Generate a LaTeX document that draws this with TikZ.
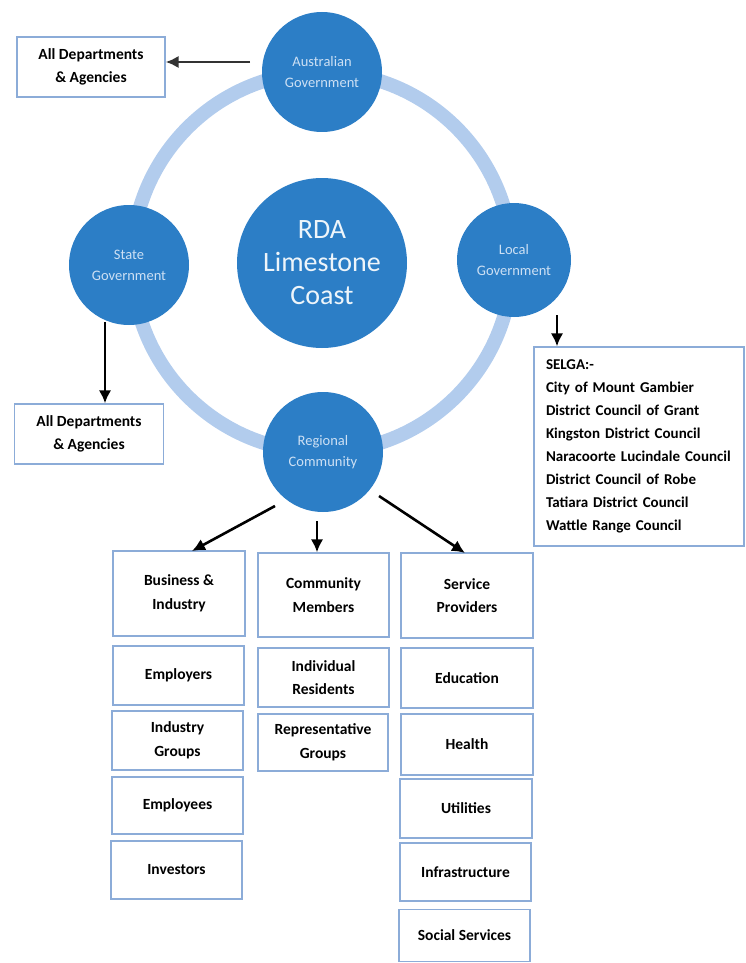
\documentclass[tikz,border=0pt]{standalone}
\usepackage{fontspec}
\setmainfont{Carlito}
\usetikzlibrary{arrows.meta}
\definecolor{circblue}{RGB}{44,126,198}
\definecolor{ringblue}{RGB}{178,204,237}
\definecolor{boxblue}{RGB}{140,172,216}
\definecolor{circtext}{RGB}{205,224,244}
\tikzset{
  x=1pt,y=-1pt,
  gov/.style={circle,fill=circblue,draw=none,minimum size=120pt,inner sep=0pt,
    align=center,text=circtext,font=\fontsize{14.5}{21}\selectfont},
  rdac/.style={circle,fill=circblue,draw=none,minimum size=170pt,inner sep=0pt,
    align=center,text=white!92!circblue,font=\fontsize{28}{33}\selectfont},
  infobox/.style={draw=boxblue,line width=1.3pt,fill=white,align=center,inner sep=2pt,
    font=\bfseries\fontsize{15.5}{23.5}\selectfont},
  arr/.style={line width=2.6pt,-{Latex[length=13pt,width=12.5pt]},draw=black},
}
\begin{document}
\begin{tikzpicture}
\useasboundingbox (0,0) rectangle (745,963);
% ring
\draw[ringblue,line width=14pt] (322,262) circle[radius=190pt];
% circles
\node[rdac] (rda) at (322,263) {RDA\\Limestone\\Coast};
\node[gov] (aus) at (322,72) {Australian\\Government};
\node[gov] (state) at (129,265) {State\\Government};
\node[gov,minimum size=114pt] (local) at (514,260) {Local\\Government};
\node[gov] (reg) at (323,452) {Regional\\Community};
% department boxes
\node[infobox,minimum width=148pt,minimum height=60pt] (d1) at (91,67) {All Departments\\\& Agencies};
\node[infobox,minimum width=149pt,minimum height=60pt] (d2) at (89,434) {All Departments\\\& Agencies};
\node[infobox,minimum width=210pt,minimum height=199pt,align=left,text width=186pt,
  font=\bfseries\fontsize{15}{23}\selectfont] (selga) at (639,446.5)
  {SELGA:-\\City of Mount Gambier\\District Council of Grant\\Kingston District Council\\Naracoorte Lucindale Council\\District Council of Robe\\Tatiara District Council\\Wattle Range Council};
% column heads
\node[infobox,minimum width=132pt,minimum height=85pt] (bi) at (179,593.5) {Business \&\\Industry};
\node[infobox,minimum width=131pt,minimum height=84pt] (cm) at (323.5,595) {Community\\Members};
\node[infobox,minimum width=132pt,minimum height=85pt] (sp) at (467,595.5) {Service\\Providers};
% business column
\node[infobox,minimum width=131pt,minimum height=59pt] (emp) at (178.5,675.5) {Employers};
\node[infobox,minimum width=131pt,minimum height=59pt] (ig) at (177.5,740.5) {Industry\\Groups};
\node[infobox,minimum width=131pt,minimum height=57pt] (empl) at (177.5,805.5) {Employees};
\node[infobox,minimum width=131pt,minimum height=58pt] (inv) at (176.5,870) {Investors};
% community column
\node[infobox,minimum width=131pt,minimum height=59pt] (ir) at (323.5,677.5) {Individual\\Residents};
\node[infobox,minimum width=130pt,minimum height=57pt] (rg) at (323,742.5) {Representative\\Groups};
% service column
\node[infobox,minimum width=132pt,minimum height=60pt] (edu) at (467,678) {Education};
\node[infobox,minimum width=132pt,minimum height=61pt] (hea) at (467,744.5) {Health};
\node[infobox,minimum width=132pt,minimum height=59pt] (uti) at (466,808.5) {Utilities};
\node[infobox,minimum width=131pt,minimum height=58pt] (inf) at (465.5,872) {Infrastructure};
\node[infobox,minimum width=131pt,minimum height=52pt] (soc) at (464.5,935.5) {Social Services};
% arrows
\coordinate (a1) at (250,62);
\draw[arr,draw=black!80] (a1) -- (a1 -| d1.east);
\coordinate (s1) at (105,322);
\draw[arr] (s1) -- (s1 |- d2.north);
\coordinate (l1) at (557,315);
\draw[arr] (l1) -- (l1 |- selga.north);
\coordinate (r1) at (275,506);
\coordinate (r1e) at (192,551);
\draw[arr] (r1) -- (r1e);
\coordinate (r2) at (317,521);
\draw[arr] (r2) -- (r2 |- cm.north);
\coordinate (r3) at (379,496);
\coordinate (r3e) at (465,553);
\draw[arr] (r3) -- (r3e);
\end{tikzpicture}
\end{document}
